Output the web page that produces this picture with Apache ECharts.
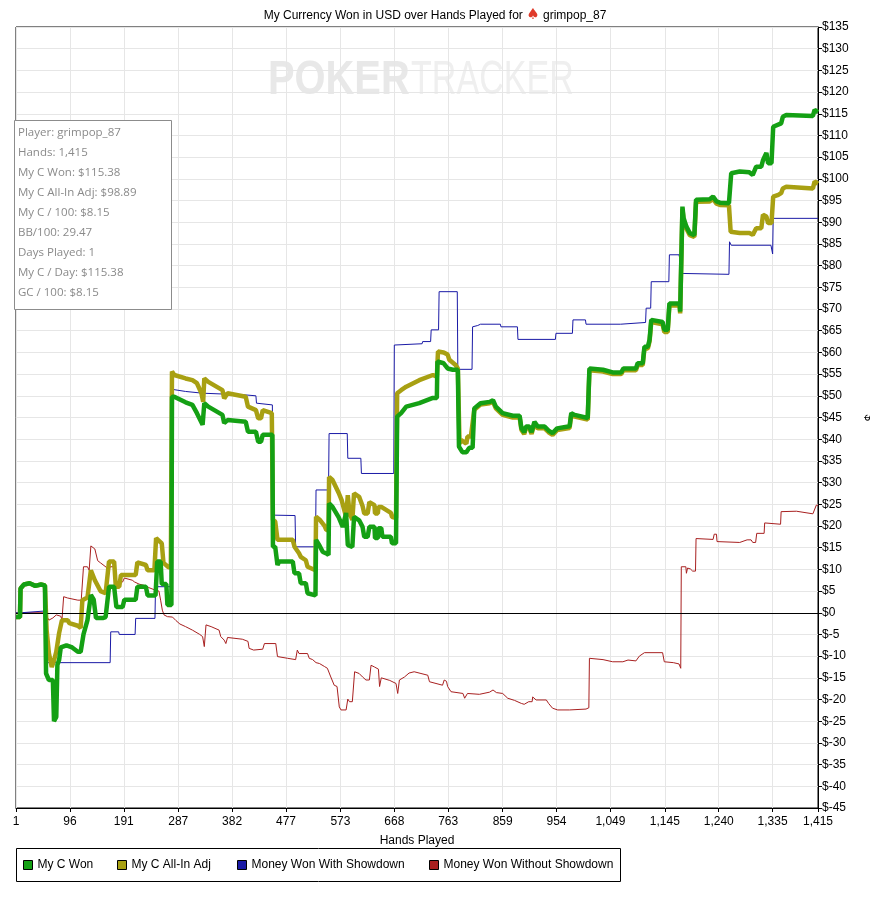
<!DOCTYPE html>
<html>
<head>
<meta charset="utf-8">
<script src="https://cdn.jsdelivr.net/npm/echarts@6/dist/echarts.min.js"></script>
<style>
html,body{margin:0;padding:0;background:#fff;}
#chart{width:870px;height:903px;}
</style>
</head>
<body>
<div id="chart"></div>
<script>
// ---- data (hand, USD) ----
var xTicks = [1, 96, 191, 287, 382, 477, 573, 668, 763, 859, 954, 1049, 1145, 1240, 1335, 1415];
var seriesNames = ['My C Won', 'My C All-In Adj', 'Money Won With Showdown', 'Money Won Without Showdown'];
var infoLines = ['Player: grimpop_87', 'Hands: 1,415', 'My C Won: $115.38', 'My C All-In Adj: $98.89', 'My C / 100: $8.15', 'BB/100: 29.47', 'Days Played: 1', 'My C / Day: $115.38', 'GC / 100: $8.15'];

var myCWon = [[1,-1],[8,-1],[9,5.6],[15,6.5],[25,6.8],[35,6.2],[45,6.5],[52,6.3],[54,-14],[59,-15.5],[66,-15.5],[68,-25],[72,-24],[74,-12],[77,-10.9],[80,-8],[90,-7.5],[100,-8],[110,-9],[115,-9],[120,-5],[127,-1.7],[133,4.1],[138,3],[142,-1.2],[155,-1.2],[159,-1],[165,6],[174,6],[178,1.3],[189,1.3],[192,3],[212,3],[215,6],[230,6],[233,4],[247,4],[250,11.8],[256,11.8],[258,6.6],[266,6.6],[268,1.8],[275,1.8],[276,49.8],[280,49.8],[300,48.5],[312,47.9],[320,46],[330,43.3],[333,48.3],[340,47.5],[365,45.6],[368,43.7],[371,43.7],[374,44.4],[406,44],[410,41.7],[424,41.7],[428,39.4],[433,39.4],[436,41],[453,41],[454,15.2],[458,15.2],[462,11],[465,11.8],[489,11.8],[492,9.1],[500,9.1],[503,6.8],[512,6.8],[515,4.5],[529,4],[530,16.8],[536,15.5],[542,14],[548,13.7],[552,13.3],[553,25.2],[559,24.4],[570,22],[577,19.8],[583,23],[586,15.6],[594,15.2],[597,22.1],[606,21.3],[612,19.8],[615,17.5],[621,17.5],[624,19.8],[633,19.8],[634,17.2],[639,17.2],[640,19.5],[645,19.5],[647,17.5],[662,17.5],[664,16],[671,16],[673,45.2],[680,46],[689,47.5],[712,48.3],[736,49.5],[743,49.5],[744,57.9],[755,57.5],[762,56.3],[771,56],[780,56],[782,38.3],[788,37],[795,37],[800,38],[806,38],[809,47.1],[820,48.3],[836,48.6],[842,49],[847,47.5],[859,46],[877,45.4],[889,45.4],[892,42.6],[897,41.6],[900,42.9],[906,42.9],[910,41.6],[912,41.6],[915,44],[921,42.9],[933,42.9],[940,42],[947,41.4],[950,41],[955,42.5],[977,43],[980,46],[986,45.6],[1009,44.9],[1012,56.3],[1036,56],[1053,55.4],[1068,55.4],[1072,56.3],[1094,56.3],[1097,57.5],[1106,57.5],[1109,61.3],[1115,61.3],[1118,62.9],[1121,67.5],[1141,67],[1144,65.2],[1150,65.2],[1153,71.3],[1171,71.3],[1172,69.4],[1174,69.4],[1176,93.6],[1178,91],[1183,89],[1189,87.5],[1197,87],[1199,87],[1200,95.2],[1224,95.3],[1230,95.9],[1233,96.2],[1236,94.8],[1242,94.5],[1258,94.4],[1262,101.3],[1277,101.7],[1294,101.5],[1300,100.9],[1303,100.9],[1306,102.8],[1315,102.8],[1318,104.3],[1324,106],[1327,103.6],[1333,103.6],[1336,112],[1350,112.8],[1353,114.3],[1359,114.7],[1406,114.5],[1409,115.9],[1415,115.38]];

var myCAllIn = [[1,-1],[8,-1],[9,5.6],[15,6.5],[25,6.8],[35,6.2],[45,6.5],[52,6.3],[55,-4],[59,-9.3],[64,-12.5],[68,-11],[72,-9],[77,-4.7],[82,-1.7],[92,-1.7],[95,-2.4],[110,-3],[115,-3.5],[118,2.9],[127,3.5],[133,9.8],[140,7.5],[150,5],[159,4.5],[165,11.8],[174,11.8],[177,6],[183,6],[186,8.7],[212,8.7],[215,11.6],[230,11],[233,9.8],[245,9.8],[248,17.2],[258,16],[261,11.5],[270,10.5],[274,10.5],[276,55.6],[280,54.8],[300,54],[312,53.6],[320,52.9],[328,50.6],[331,48.6],[333,54],[340,53.2],[365,51.3],[368,49.4],[371,49.4],[374,50.6],[406,49.8],[410,47.5],[424,46.7],[428,44.8],[433,44.8],[436,46.7],[452,46],[454,21.4],[458,21],[462,16.8],[489,16.8],[492,15.2],[500,13.7],[503,12.9],[512,12.1],[515,10.6],[529,9.8],[530,22.1],[536,21.5],[545,20],[548,19.1],[552,19.1],[553,31.3],[559,30.6],[570,27.6],[575,26],[583,22.1],[586,27.1],[589,23],[594,21.4],[597,27.5],[606,26.7],[612,24.6],[615,22.9],[621,22.9],[624,25.5],[633,24.8],[634,22.9],[639,22.9],[640,24.4],[645,24.4],[647,24],[662,23],[664,22.1],[671,21.8],[673,50.6],[680,51.3],[689,52.1],[712,53.6],[736,54.8],[743,54.4],[745,60.2],[755,60],[762,59.5],[765,58.3],[776,57.1],[780,56.3],[783,39],[786,39.8],[795,39],[797,40.6],[803,40.6],[806,41],[809,46.8],[820,48],[836,48.3],[842,48.6],[847,47.1],[859,45.6],[877,45],[889,45],[892,42.2],[897,41.2],[900,42.5],[906,42.5],[910,41.2],[912,41.2],[915,43.6],[921,42.5],[933,42.5],[940,41.6],[947,41],[950,40.6],[955,42.1],[977,42.6],[980,45.6],[986,45.2],[1009,44.5],[1012,55.9],[1036,55.6],[1053,55],[1068,55],[1072,55.9],[1094,55.9],[1097,57.1],[1106,57.1],[1109,60.9],[1115,60.9],[1118,62.5],[1121,67],[1141,66.5],[1144,64.7],[1150,64.7],[1153,70.8],[1171,70.8],[1172,69],[1174,69],[1176,93.1],[1178,90.5],[1183,88.5],[1189,87],[1197,86.6],[1199,86.6],[1200,94.7],[1224,94.8],[1230,95.4],[1233,95.7],[1236,94.3],[1242,94],[1258,93.9],[1261,87.8],[1277,87.5],[1294,87.5],[1300,87.1],[1303,87.1],[1306,88.6],[1315,88.6],[1318,91.7],[1324,91.3],[1327,89.8],[1333,89.8],[1336,95.9],[1345,96.3],[1350,96.7],[1353,97.8],[1359,98.2],[1406,97.8],[1409,99.4],[1415,98.89]];

var withShowdown = [[1,0],[10,0],[11,0.4],[52,0.4],[54,-11.5],[167,-11.5],[168,-4.4],[182,-4.4],[183,-5],[211,-5],[212,-1.3],[246,-1.3],[247,6],[275,6],[276,51.5],[300,51],[330,50.6],[406,50.2],[424,50],[425,48.3],[453,47.9],[454,22.5],[493,22.4],[494,15.2],[529,15.2],[530,28.3],[552,28.3],[553,41.3],[585,41.3],[586,35.6],[609,35.6],[610,32.1],[667,32.1],[668,61.7],[717,62],[718,62.5],[732,62.5],[733,65.2],[746,65.2],[747,74],[779,74],[780,56.1],[805,56.1],[806,65.9],[815,66.2],[820,66.5],[855,66.5],[856,65.9],[885,65.9],[886,63],[952,63],[953,64.4],[982,64.4],[983,67.5],[1005,67.5],[1006,66.5],[1067,66.5],[1068,66.9],[1111,66.9],[1112,70.2],[1120,70.2],[1121,76.3],[1152,76.3],[1153,82.5],[1170,82.5],[1176,78.2],[1258,78],[1259,85.5],[1262,84.7],[1332,84.7],[1335,82.7],[1336,90.9],[1415,90.9]];

var withoutShowdown = [[1,0],[52,0],[59,-1.7],[66,-1.2],[72,-0.5],[80,-0.8],[82,-1.7],[85,3.7],[92,3.4],[110,2.9],[116,2.9],[120,10.6],[127,10.6],[130,9.8],[133,15.4],[140,14.7],[145,12],[150,11.5],[160,10.5],[165,9.8],[167,10.6],[174,10.6],[177,7.1],[189,7.1],[192,8],[206,7.5],[210,7.1],[218,6.6],[230,6.2],[235,5.8],[247,5.2],[253,5],[256,2.9],[259,0.6],[262,-0.5],[268,-0.9],[277,-1],[283,-1.8],[290,-2.6],[300,-3.2],[312,-4],[325,-5],[330,-5.5],[333,-7.8],[336,-2.8],[345,-3.2],[359,-4],[362,-5.5],[368,-6.3],[371,-7.1],[374,-5.7],[400,-6.1],[410,-6.6],[412,-8.2],[420,-8.6],[436,-8.4],[439,-7.1],[459,-7.1],[462,-10.1],[480,-10.5],[494,-10.8],[497,-8.6],[500,-9.4],[515,-9.4],[518,-10.5],[524,-10.8],[530,-11.5],[536,-11.7],[545,-12.4],[550,-12.8],[556,-14.8],[562,-16.7],[567,-17],[571,-21.7],[574,-22.4],[583,-22.4],[586,-19.9],[589,-20.5],[594,-20.5],[598,-13.6],[606,-14],[612,-14.8],[618,-15.5],[624,-15.5],[627,-12.1],[633,-12.5],[640,-13],[642,-17],[645,-15],[660,-15.6],[671,-16.3],[674,-18.6],[677,-15.5],[686,-14.8],[694,-13.9],[703,-13.6],[715,-14],[727,-14.4],[730,-15.9],[753,-16.7],[756,-15.5],[760,-15.8],[762,-17],[768,-18.2],[789,-18.6],[792,-19.7],[797,-18.6],[818,-18.8],[836,-18.3],[842,-17.8],[848,-18.4],[859,-18.6],[868,-19.7],[880,-20.2],[892,-20.9],[897,-21.1],[905,-20.5],[911,-20.5],[912,-19.4],[918,-20.1],[936,-20.1],[940,-20.9],[947,-22],[956,-22.4],[977,-22.4],[1006,-22.2],[1009,-21.8],[1011,-21.9],[1012,-10.5],[1036,-10.8],[1053,-11.3],[1071,-11.3],[1080,-10.9],[1094,-11.1],[1097,-11.2],[1100,-10],[1109,-9.2],[1141,-9.2],[1144,-11.3],[1160,-11.5],[1170,-11.8],[1173,-12.8],[1174,10.6],[1182,10.6],[1183,9.1],[1185,10.3],[1190,10.1],[1194,9.6],[1199,9.6],[1200,17.1],[1230,16.9],[1232,18.1],[1236,18.1],[1237,16.4],[1277,16.2],[1290,16.8],[1297,16.8],[1300,16.2],[1305,16.2],[1307,18.3],[1320,18.3],[1321,20.7],[1349,20.4],[1350,23.3],[1377,23.4],[1406,22.8],[1409,22.8],[1412,24.8],[1415,24.8]];

var FONT = "'Liberation Sans', Arial, sans-serif";
var COLORS = {green:'#14a014', olive:'#a8a012', blue:'#1a1aa6', red:'#a82020'};
var legendLeft = [23, 117, 237, 429];

var chart = echarts.init(document.getElementById('chart'), null, {renderer:'canvas'});

var legends = seriesNames.map(function (n, i) {
  return {
    data: [n], left: legendLeft[i], top: 859, padding: 0,
    icon: 'rect', itemWidth: 9, itemHeight: 9,
    itemStyle: { borderColor: '#000', borderWidth: 1 },
    textStyle: { fontFamily: FONT, fontSize: 12, color: '#000', padding: [0, 0, 0, 0] },
    selectedMode: false
  };
});

var option = {
  animation: false,
  backgroundColor: '#fff',
  title: {
    text: 'My Currency Won in USD over Hands Played for {s|♠} grimpop_87',
    left: 'center',
    top: 3,
    textStyle: {
      fontFamily: FONT, fontSize: 12, fontWeight: 'normal', color: '#000',
      rich: { s: { color: '#e03a2a', fontSize: 15, fontFamily: "'DejaVu Sans', sans-serif" } }
    }
  },
  grid: { left: 16, right: 52, top: 27, bottom: 95, show: true, borderColor: '#000', borderWidth: 1,
    backgroundColor: 'transparent', containLabel: false, outerBoundsMode: 'none' },
  legend: legends,
  xAxis: {
    type: 'value', min: 1, max: 1415,
    name: 'Hands Played', nameLocation: 'middle', nameGap: 27,
    nameTextStyle: { fontFamily: FONT, fontSize: 12, color: '#000' },
    axisLine: { show: true, onZero: false, lineStyle: { color: '#000', width: 1 } },
    axisTick: { show: true, length: 4, customValues: xTicks, lineStyle: { color: '#000' } },
    axisLabel: { customValues: xTicks, fontFamily: FONT, fontSize: 12, color: '#000', margin: 8,
      formatter: function (v) { return Number(v).toLocaleString('en-US'); } },
    splitLine: { show: true, lineStyle: { color: '#e6e6e6', width: 1 } }
  },
  yAxis: {
    type: 'value', position: 'right', min: -45, max: 135, interval: 5,
    name: '$', nameLocation: 'middle', nameGap: 44, nameRotate: -90,
    nameTextStyle: { fontFamily: FONT, fontSize: 12, color: '#000' },
    axisLine: { show: true, lineStyle: { color: '#000', width: 1 } },
    axisTick: { show: true, length: 4, lineStyle: { color: '#000' } },
    axisLabel: { fontFamily: FONT, fontSize: 12, color: '#000', margin: 4,
      formatter: function (v) { return '$' + v; } },
    splitLine: { show: true, lineStyle: { color: '#e6e6e6', width: 1 } }
  },
  graphic: [
    { type: 'text', left: 268, top: 57, z: 0, silent: true, scaleX: 0.83,
      style: { text: 'POKER', fill: '#e8e8e8', font: "bold 48px 'Liberation Sans', Arial, sans-serif" } },
    { type: 'text', left: 411, top: 57, z: 0, silent: true, scaleX: 0.71,
      style: { text: 'TRACKER', fill: '#efefef', font: "48px 'Liberation Sans', Arial, sans-serif" } },
    { type: 'rect', left: 14, top: 120, z: 100, silent: true,
      shape: { x: 0, y: 0, width: 157, height: 189 },
      style: { fill: '#fff', stroke: '#8c8c8c', lineWidth: 1 } },
    { type: 'text', left: 18, top: 123, z: 101, silent: true,
      style: { text: infoLines.join('\n'), fill: '#8a8a8a', font: "11.5px 'Open Sans', 'Noto Sans', sans-serif", lineHeight: 20 } },
    { type: 'rect', z: 0, silent: true,
      shape: { x: 16.5, y: 848.5, width: 604, height: 33 },
      style: { fill: 'none', stroke: '#000', lineWidth: 1 } }
  ],
  series: [
    { name: seriesNames[3], type: 'line', data: withoutShowdown, showSymbol: false, symbol: 'none', z: 2,
      color: COLORS.red, lineStyle: { width: 1, color: COLORS.red },
      markLine: { silent: true, symbol: 'none', label: { show: false }, animation: false,
        lineStyle: { color: '#000', width: 1, type: 'solid' }, data: [{ yAxis: 0 }] } },
    { name: seriesNames[2], type: 'line', data: withShowdown, showSymbol: false, symbol: 'none', z: 3,
      color: COLORS.blue, lineStyle: { width: 1, color: COLORS.blue } },
    { name: seriesNames[1], type: 'line', data: myCAllIn, showSymbol: false, symbol: 'none', z: 4,
      color: COLORS.olive, lineStyle: { width: 4.5, color: COLORS.olive } },
    { name: seriesNames[0], type: 'line', data: myCWon, showSymbol: false, symbol: 'none', z: 5,
      color: COLORS.green, lineStyle: { width: 4.5, color: COLORS.green } }
  ]
};
chart.setOption(option);
</script>
</body>
</html>
